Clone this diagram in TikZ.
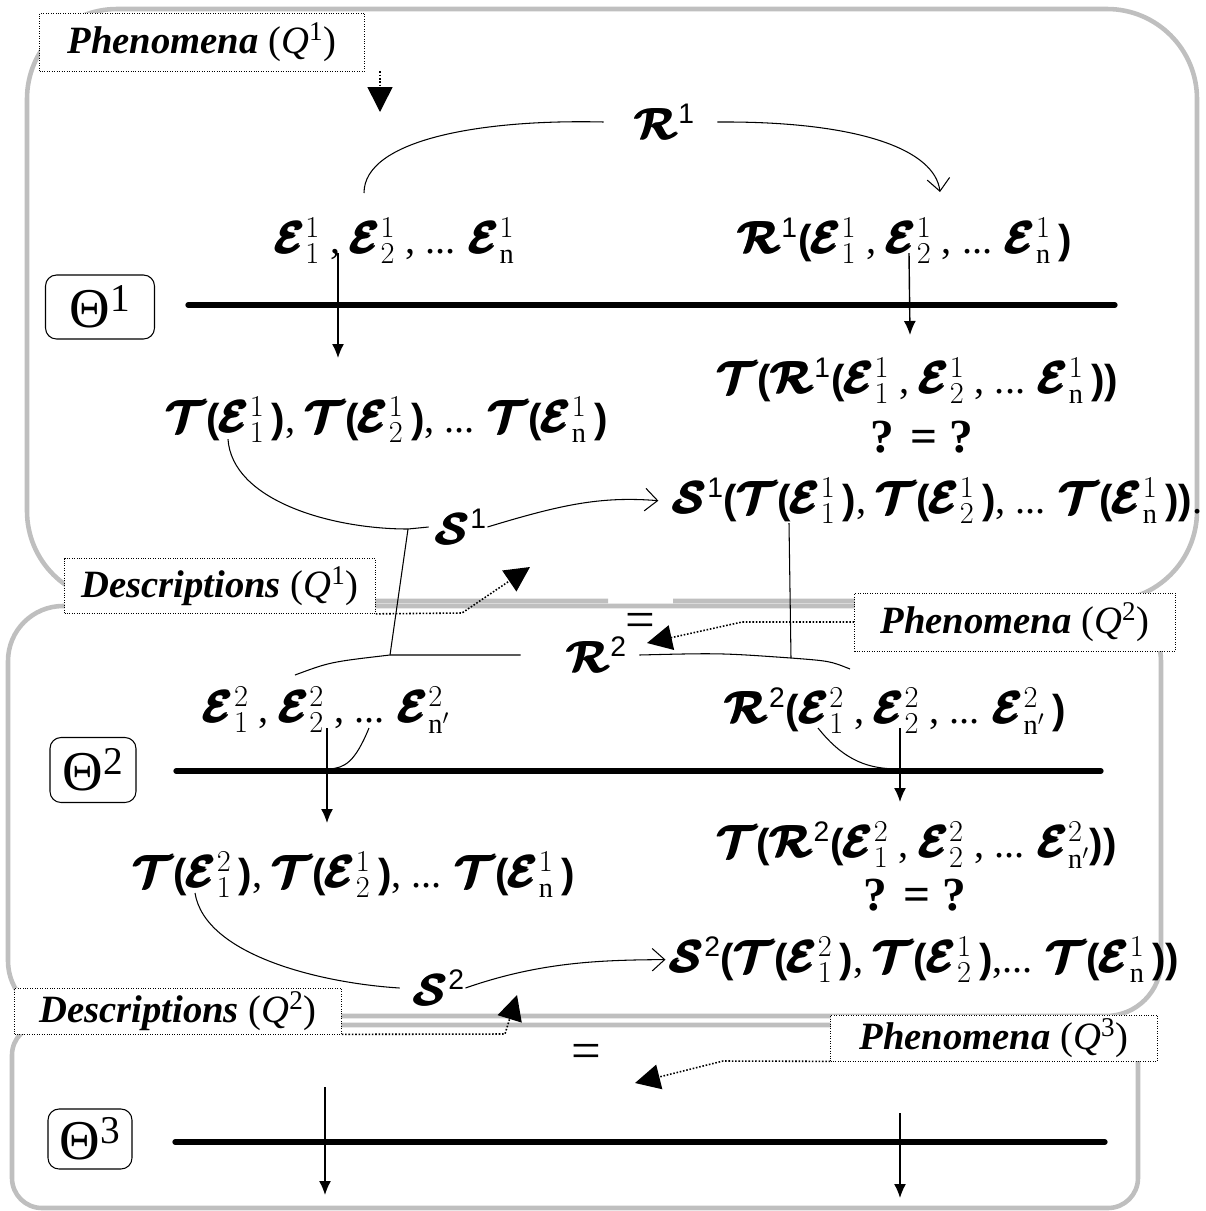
\documentclass[tikz,border=0pt]{standalone}
\usepackage{amsmath,amssymb}
\usepackage{fontspec}
\setmainfont{Liberation Serif}
\newfontfamily\arialfont{Liberation Sans}
\usetikzlibrary{arrows.meta,positioning,calc}

\newcommand{\cE}{\pmb{\boldsymbol{\mathcal{E}}}}
\newcommand{\cR}{\pmb{\boldsymbol{\mathcal{R}}}}
\newcommand{\cT}{\pmb{\boldsymbol{\mathcal{T}}}}
\newcommand{\cS}{\pmb{\boldsymbol{\mathcal{S}}}}
\newcommand{\pL}{\text{\arialfont\bfseries(}}
\newcommand{\pR}{\text{\arialfont\bfseries)}}
\newcommand{\kom}{\text{ , }}
\newcommand{\etc}{\text{... }}
\newcommand{\sa}[1]{^{\text{\arialfont #1}}}
\newcommand{\qlabel}[2]{\textbf{\textit{#1}} (\textit{Q}\textsuperscript{#2})}

\begin{document}
\begin{tikzpicture}[x=0.02cm, y=-0.02cm,
    panel/.style={draw=gray!50, line width=2.6pt},
    tag/.style={draw, densely dotted, fill=white, inner sep=0pt, font=\fontsize{22}{26}\selectfont},
    theta/.style={draw, semithick, rounded corners=0.22cm, inner sep=0pt, font=\fontsize{32}{34}\selectfont},
    formula/.style={anchor=base, inner sep=0pt, font=\fontsize{23}{27}\selectfont},
    lbl/.style={inner sep=0pt, font=\fontsize{23}{27}\selectfont},
    axis/.style={line width=3pt, line cap=round},
    arrow/.style={-{Latex[length=0.28cm,width=0.24cm]}, line width=0.8pt},
    rel/.style={line width=0.6pt},
    barb/.style={rel, -{Straight Barb[length=0.25cm,width=0.45cm]}},
    note/.style={densely dotted, line width=0.9pt, -{Triangle[length=0.5cm,width=0.5cm]}}]

    \useasboundingbox (0,0) rectangle (1205,1211);

    % the three levels
    \draw[panel, rounded corners=1.8cm] (673,601) -- (1197,601) -- (1197,9) -- (27,9) -- (27,601) -- (608,601);
    \draw[panel, rounded corners=1.1cm] (8,606) rectangle (1161,1016);
    \draw[panel, rounded corners=0.6cm] (12,1025) rectangle (1138,1208);

    % dotted labels
    \node[tag, minimum width=6.5cm, minimum height=1.16cm] (ph1) at (202,42) {\qlabel{Phenomena}{1}};
    \node[tag, minimum width=6.22cm, minimum height=1.1cm] (ds1) at (220,586) {\qlabel{Descriptions}{1}};
    \node[tag, minimum width=6.42cm, minimum height=1.16cm] (ph2) at (1015,622) {\qlabel{Phenomena}{2}};
    \node[tag, minimum width=6.54cm, minimum height=0.92cm] (ds2) at (178,1011) {\qlabel{Descriptions}{2}};
    \node[tag, minimum width=6.54cm, minimum height=0.92cm] (ph3) at (994,1038) {\qlabel{Phenomena}{3}};

    % theories
    \node[theta, minimum width=2.18cm, minimum height=1.28cm] (th1) at (100,307) {Θ\textsuperscript{1}};
    \node[theta, minimum width=1.72cm, minimum height=1.3cm] (th2) at (93,770) {Θ\textsuperscript{2}};
    \node[theta, minimum width=1.68cm, minimum height=1.2cm] (th3) at (90,1139) {Θ\textsuperscript{3}};

    \draw[axis] (188,305) -- (1115,305);
    \draw[axis] (176,771) -- (1101,771);
    \draw[axis] (175,1142) -- (1105,1142);

    % level 1
    \node[formula] (e1) at (395,253) {$\cE^1_1\kom\cE^1_2\kom\etc\cE^1_{\mathrm{n}}$};
    \node[formula] (r1f) at (905,253) {$\cR\sa{1}\pL\cE^1_1\kom\cE^1_2\kom\etc\cE^1_{\mathrm{n}}\,\pR$};
    \node[formula] (t1) at (387,432) {$\cT\pL\cE^1_1\,\pR\text{, }\cT\pL\cE^1_2\,\pR\text{, }\etc\cT\pL\cE^1_{\mathrm{n}}\,\pR$};
    \node[formula] (tr1) at (918,393) {$\cT\pL\cR\sa{1}\pL\cE^1_1\kom\cE^1_2\kom\etc\cE^1_{\mathrm{n}}\,\pR\pR$};
    \node[formula, font=\fontsize{27}{30}\selectfont] (qq1) at (922,452) {\textbf{? = ?}};
    \node[formula] (s1f) at (938,513) {$\cS\sa{1}\pL\cT\pL\cE^1_1\,\pR\text{, }\cT\pL\cE^1_2\,\pR\text{, }\etc\cT\pL\cE^1_{\mathrm{n}}\,\pR\pR$.};
    \node[lbl] (rr1) at (665,122) {$\cR\sa{1}$};
    \node[lbl] (ss1) at (462,527) {$\cS\sa{1}$};

    % level 2
    \node[formula] (e2) at (327,722) {$\cE^2_1\kom\cE^2_2\kom\etc\cE^2_{\mathrm{n}'}$};
    \node[formula] (r2f) at (896,723) {$\cR\sa{2}\pL\cE^2_1\kom\cE^2_2\kom\etc\cE^2_{\mathrm{n}'}\,\pR$};
    \node[formula] (t2) at (354,887) {$\cT\pL\cE^2_1\,\pR\text{, }\cT\pL\cE^1_2\,\pR\text{, }\etc\cT\pL\cE^1_{\mathrm{n}}\,\pR$};
    \node[formula] (tr2) at (917,857) {$\cT\pL\cR\sa{2}\pL\cE^2_1\kom\cE^2_2\kom\etc\cE^2_{\mathrm{n}'}\pR\pR$};
    \node[formula, font=\fontsize{27}{30}\selectfont] (qq2) at (915,910) {\textbf{? = ?}};
    \node[formula] (s2f) at (925,972) {$\cS\sa{2}\pL\cT\pL\cE^2_1\,\pR\text{, }\cT\pL\cE^1_2\,\pR\text{,}\etc\cT\pL\cE^1_{\mathrm{n}}\,\pR\pR$};
    \node[lbl] (rr2) at (597,655) {$\cR\sa{2}$};
    \node[lbl] (ss2) at (440,988) {$\cS\sa{2}$};

    \node[lbl, font=\fontsize{30}{32}\selectfont] (eq1) at (640,625) {=};
    \node[lbl, font=\fontsize{30}{32}\selectfont] (eq2) at (586,1056) {=};

    % free ends
    \coordinate (q1in) at (380,112);
    \coordinate (q2in) at (530,567);
    \coordinate (q3in) at (647,643);
    \coordinate (q4in) at (517,995);
    \coordinate (q5in) at (635,1083);
    \coordinate (r1a) at (364,193);
    \coordinate (r1b) at (940,192);
    \coordinate (j1) at (408,529);
    \coordinate (j2) at (390,655);
    \coordinate (j3) at (791,658);
    \coordinate (r2a) at (295,675);
    \coordinate (r2b) at (850,669);
    \coordinate (s1a) at (789,523);

    % observations
    \draw[note] (ph1.south east -| q1in) -- (q1in);
    \draw[note] (ds1.south east) -- (462,613) -- (q2in);
    \draw[note] (ph2.west) -- (742,622) -- (q3in);
    \draw[note] (ds2.south east) -- (505,1034) -- (q4in);
    \draw[note] (ph3.south west) -- (723,1061) -- (q5in);

    % relations
    \draw[rel] (r1a) .. controls (364,140) and (480,119) .. ([xshift=-0.62cm]rr1.west);
    \draw[barb] ([xshift=0.44cm]rr1.east) .. controls (860,121) and (935,150) .. (r1b);
    \draw[rel] (t1.south west -| 228,0) ++(0,-4) .. controls (232,500) and (330,529) .. (j1) -- ([xshift=-0.16cm]ss1.west);
    \draw[barb] (ss1.east) .. controls (560,505) and (600,496) .. ([xshift=-0.3cm]s1f.west);
    \draw[rel] (j1) -- (j2);
    \draw[rel] (s1a) -- (j3);
    \draw[rel] (r2a) .. controls (330,662) .. (j2) -- ([xshift=-0.92cm]rr2.west);
    \draw[rel] ([xshift=0.24cm]rr2.east) .. controls (720,653) .. (j3) .. controls (830,661) .. (r2b);
    \draw[rel] (369,728) .. controls (355,762) and (345,768) .. (329,769);
    \draw[rel] (818,728) .. controls (845,762) and (870,769) .. (899,769);
    \draw[rel] (195,893) .. controls (205,955) and (320,983) .. ([xshift=-0.3cm]ss2.west);
    \draw[barb] (ss2.east) .. controls (540,962) and (600,960) .. ([xshift=-0.1cm]s2f.west);

    % measurements
    \draw[arrow] (338,253) -- (338,358);
    \draw[arrow] (909,253) -- (910,335);
    \draw[arrow] (327,728) -- (327,823);
    \draw[arrow] (900,728) -- (900,802);
    \draw[arrow] (325,1087) -- (325,1195);
    \draw[arrow] (900,1113) -- (900,1198);
\end{tikzpicture}
\end{document}
